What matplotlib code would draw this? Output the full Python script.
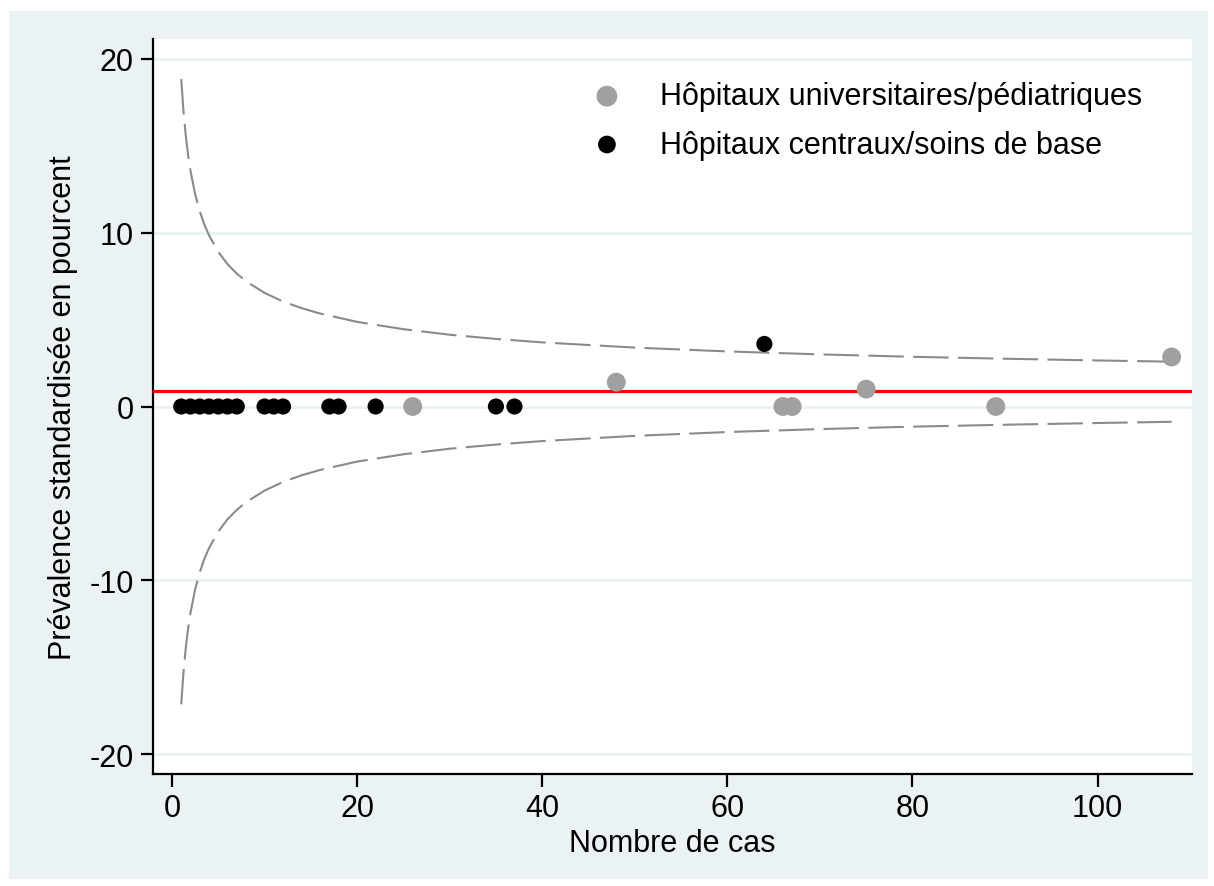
import matplotlib
matplotlib.use("Agg")
import matplotlib.pyplot as plt
from matplotlib.patches import Rectangle

plt.rcParams['font.family'] = ['Liberation Sans', 'DejaVu Sans']
plt.rcParams['axes.unicode_minus'] = False

# hôpitaux universitaires / pédiatriques
univ_n = [26, 48, 66, 67, 75, 89, 108]
univ_p = [0, 1.4, 0, 0, 1.0, 0, 2.85]

# hôpitaux centraux / soins de base
base_n = [1, 2, 3, 4, 5, 6, 7, 10, 11, 12, 17, 18, 22, 35, 37, 64]
base_p = [0, 0, 0, 0, 0, 0, 0, 0, 0, 0, 0, 0, 0, 0, 0, 3.6]

moyenne = 0.87

# limites de contrôle
lim_n = [1, 1.25, 1.5, 1.75, 2, 2.5, 3, 3.5, 4, 5, 6, 7, 8, 10, 12, 14, 16,
         20, 25, 30, 35, 40, 50, 60, 70, 80, 90, 100, 108]
lim_haut = [18.84, 16.94, 15.54, 14.45, 13.57, 12.23, 11.24, 10.47, 9.85, 8.90,
            8.19, 7.65, 7.21, 6.54, 6.04, 5.66, 5.35, 4.87, 4.45, 4.13, 3.89,
            3.69, 3.39, 3.17, 3.00, 2.86, 2.75, 2.65, 2.58]
lim_bas = [-17.14, -15.24, -13.84, -12.75, -11.87, -10.53, -9.54, -8.77, -8.15,
           -7.20, -6.49, -5.95, -5.51, -4.84, -4.34, -3.96, -3.65, -3.17, -2.75,
           -2.43, -2.19, -1.99, -1.69, -1.47, -1.30, -1.16, -1.05, -0.95, -0.88]

xticks = [0, 20, 40, 60, 80, 100]
yticks = [-20, -10, 0, 10, 20]

fond = "#eaf2f3"

fig = plt.figure(figsize=(12.14, 8.87), dpi=100, facecolor="white")
fig.patches.append(Rectangle((9/1214, 7/887), 1199/1214, 868/887,
                             transform=fig.transFigure, facecolor=fond,
                             edgecolor="none", zorder=-10))
ax = fig.add_axes([153/1214, 112/887, 1039/1214, 735/887])
ax.set_zorder(1)
ax.set_facecolor("white")

for y in yticks:
    ax.axhline(y, color=fond, lw=2.2, zorder=1)

ax.plot(lim_n, lim_haut, color="#8a8a8a", lw=1.5, dashes=(17, 4.5), zorder=2)
ax.plot(lim_n, lim_bas, color="#8a8a8a", lw=1.5, dashes=(17, 4.5), zorder=2)
ax.axhline(moyenne, color="red", lw=2.3, zorder=3)

ax.scatter(univ_n, univ_p, s=185, color="#a0a0a0", edgecolors="none", zorder=4,
           label="Hôpitaux universitaires/pédiatriques")
ax.scatter(base_n, base_p, s=135, color="black", edgecolors="none", zorder=4,
           label="Hôpitaux centraux/soins de base")

ax.set_xlim(-2.05, 110.2)
ax.set_ylim(-21.15, 21.15)
ax.set_xticks(xticks)
ax.set_yticks(yticks)
ax.tick_params(labelsize=22, length=9, width=1.6, direction="out", pad=5)
for s in ["top", "right"]:
    ax.spines[s].set_visible(False)
for s in ["left", "bottom"]:
    ax.spines[s].set_linewidth(1.6)

ax.set_xlabel("Nombre de cas", fontsize=22, labelpad=3)
ax.set_ylabel("Prévalence standardisée en pourcent", fontsize=22, labelpad=8)

ax.legend(loc="upper left", bbox_to_anchor=(0.381, 0.98), frameon=False,
          fontsize=22, handletextpad=0.75, labelspacing=0.6, borderpad=0.4,
          markerscale=1.1)

fig.savefig("out.png", dpi=100, facecolor="white")
